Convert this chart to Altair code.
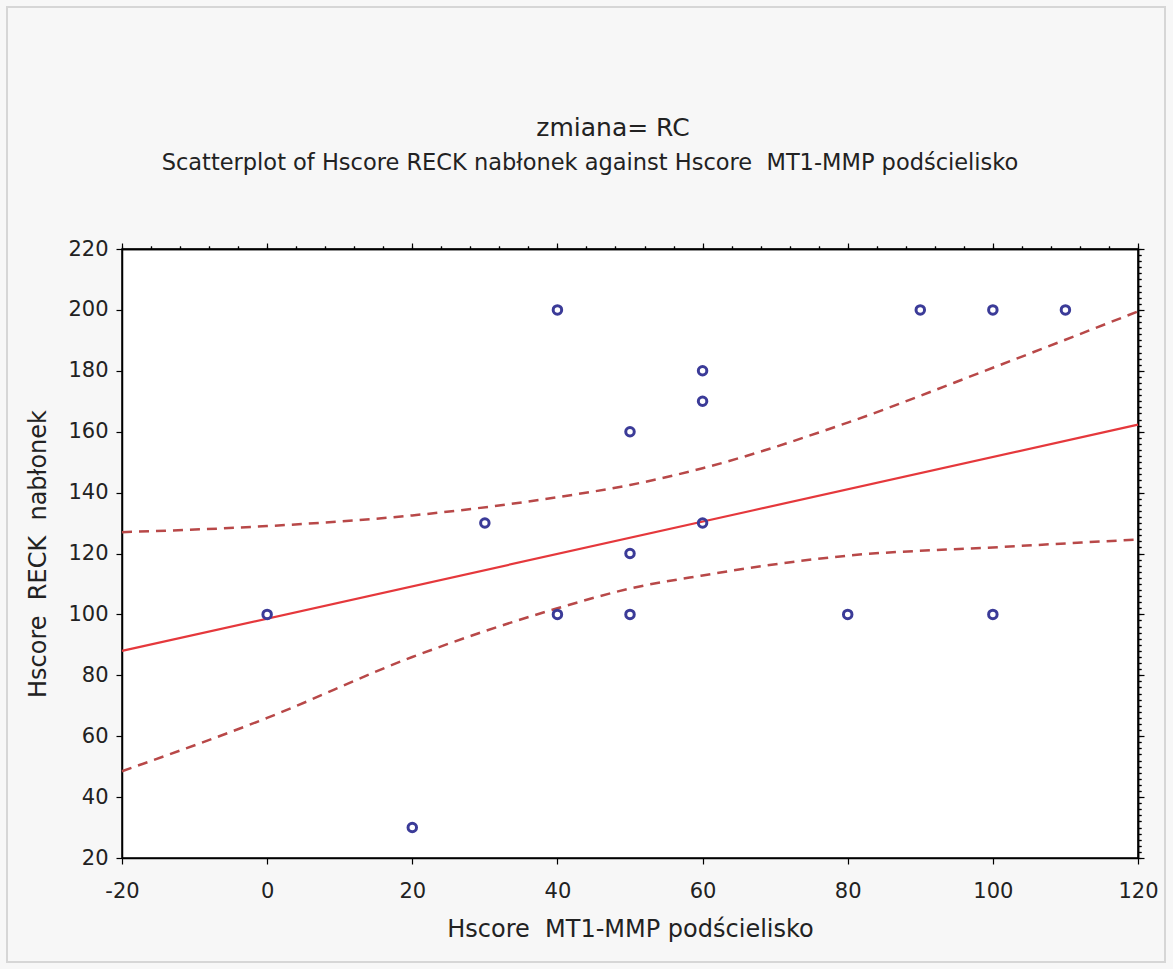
import altair as alt
import pandas as pd

# ---- data ----
pt_x = [0, 20, 30, 40, 40, 50, 50, 50, 60, 60, 60, 80, 90, 100, 100, 110]
pt_y = [100, 30, 130, 200, 100, 160, 120, 100, 180, 170, 130, 100, 200, 200, 100, 200]

fit_x = [-20, 120]
fit_y = [88.0, 162.3]

band_x = [-20, 0, 20, 40, 50, 60, 80, 100, 120]
band_upper = [127.0, 129.0, 132.5, 138.5, 142.5, 148.0, 163.0, 181.0, 199.5]
band_lower = [48.5, 66.0, 86.0, 102.0, 108.5, 112.8, 119.3, 122.0, 124.6]

x_major = list(range(-20, 121, 20))
y_major = list(range(20, 221, 20))
x_minor = list(range(-20, 121, 4))
y_minor = list(range(20, 221, 2))

title_line1 = "zmiana= RC"
title_line2 = "Scatterplot of Hscore RECK nabłonek against Hscore \u00a0MT1-MMP podścielisko"
x_title = "Hscore \u00a0MT1-MMP podścielisko"
y_title = "Hscore \u00a0RECK \u00a0nabłonek"

FONT = "DejaVu Sans"
TXT = "#222222"

pts = pd.DataFrame({"x": pt_x, "y": pt_y})
fit = pd.DataFrame({"x": fit_x, "y": fit_y})
band = pd.concat([
    pd.DataFrame({"x": band_x, "y": band_upper, "side": "upper"}),
    pd.DataFrame({"x": band_x, "y": band_lower, "side": "lower"}),
])

xscale = alt.Scale(domain=[-20, 120], nice=False, zero=False)
yscale = alt.Scale(domain=[20, 220], nice=False, zero=False)

common = dict(domainColor="black", domainWidth=1.5, tickColor="black",
              tickWidth=1.2, grid=False)

x_axis = alt.Axis(
    values=x_major, labelExpr="'' + datum.value",
    tickSize=6, labelPadding=16, labelFontSize=21, labelFont=FONT,
    labelColor=TXT, title=x_title, titleFont=FONT, titleFontSize=24,
    titleFontWeight="normal", titleColor=TXT, titlePadding=16,
    labelFlush=False, labelOverlap=False, **common,
)
y_axis = alt.Axis(
    values=y_major, labelExpr="'' + datum.value",
    tickSize=6, labelPadding=8, labelFontSize=21, labelFont=FONT,
    labelColor=TXT, title=y_title, titleFont=FONT, titleFontSize=24,
    titleFontWeight="normal", titleColor=TXT, titlePadding=17,
    labelFlush=False, labelOverlap=False, **common,
)
x_axis_minor = alt.Axis(values=x_minor, labels=False, title=None, tickSize=3, **common)
y_axis_minor = alt.Axis(values=y_minor, labels=False, title=None, tickSize=3, **common)

cond = {"condition": {"test": "datum.value % 20 === 0", "value": 6}, "value": 3}
x_axis_top = alt.Axis(orient="top", values=x_minor, labels=False, title=None,
                      tickSize=cond, **common)
y_axis_right = alt.Axis(orient="right", values=y_minor, labels=False, title=None,
                        tickSize=cond, **common)

band_layer = alt.Chart(band).mark_line(
    color="#b84848", strokeWidth=2.5, strokeDash=[10, 7], interpolate="monotone"
).encode(
    x=alt.X("x:Q", scale=xscale, axis=x_axis),
    y=alt.Y("y:Q", scale=yscale, axis=y_axis),
    detail="side:N",
)

fit_layer = alt.Chart(fit).mark_line(color="#e5383c", strokeWidth=2.2).encode(
    x=alt.X("x:Q", scale=xscale),
    y=alt.Y("y:Q", scale=yscale),
)

pt_layer = alt.Chart(pts).mark_point(
    shape="circle", filled=False, size=72, strokeWidth=3, color="#3b3b98", opacity=1
).encode(
    x=alt.X("x:Q", scale=xscale),
    y=alt.Y("y:Q", scale=yscale),
)

minor_layer = alt.Chart(pts).mark_point(opacity=0).encode(
    x=alt.X("x:Q", scale=xscale, axis=x_axis_minor),
    y=alt.Y("y:Q", scale=yscale, axis=y_axis_minor),
)

frame_layer = alt.Chart(pts).mark_point(opacity=0).encode(
    x=alt.X("x:Q", scale=xscale, axis=x_axis_top),
    y=alt.Y("y:Q", scale=yscale, axis=y_axis_right),
)

main = alt.layer(band_layer, fit_layer, pt_layer).resolve_axis(x="shared", y="shared")

t1 = alt.Chart(pd.DataFrame({"t": [title_line1]})).mark_text(
    font=FONT, fontSize=25, color=TXT, align="center", baseline="middle"
).encode(text="t:N", x=alt.value(491), y=alt.value(-121))
t2 = alt.Chart(pd.DataFrame({"t": [title_line2]})).mark_text(
    font=FONT, fontSize=22.5, color=TXT, align="center", baseline="middle"
).encode(text="t:N", x=alt.value(468), y=alt.value(-86))

border = alt.Chart(pd.DataFrame({"a": [0]})).mark_rect(
    fill=None, stroke="#d6d6d6", strokeWidth=2
).encode(x=alt.value(-115), x2=alt.value(1043), y=alt.value(-242), y2=alt.value(713))

chart = alt.layer(border, main, minor_layer, frame_layer, t1, t2).resolve_axis(
    x="independent", y="independent"
).properties(
    width=1016, height=609,
    autosize=alt.AutoSizeParams(type="none"),
    padding={"left": 122, "top": 249, "right": 35, "bottom": 111},
    background="#f7f7f7",
).configure_view(
    fill="white", stroke="black", strokeWidth=1.5
)

chart.save("out.html", embed_options={"renderer": "svg", "actions": False})
